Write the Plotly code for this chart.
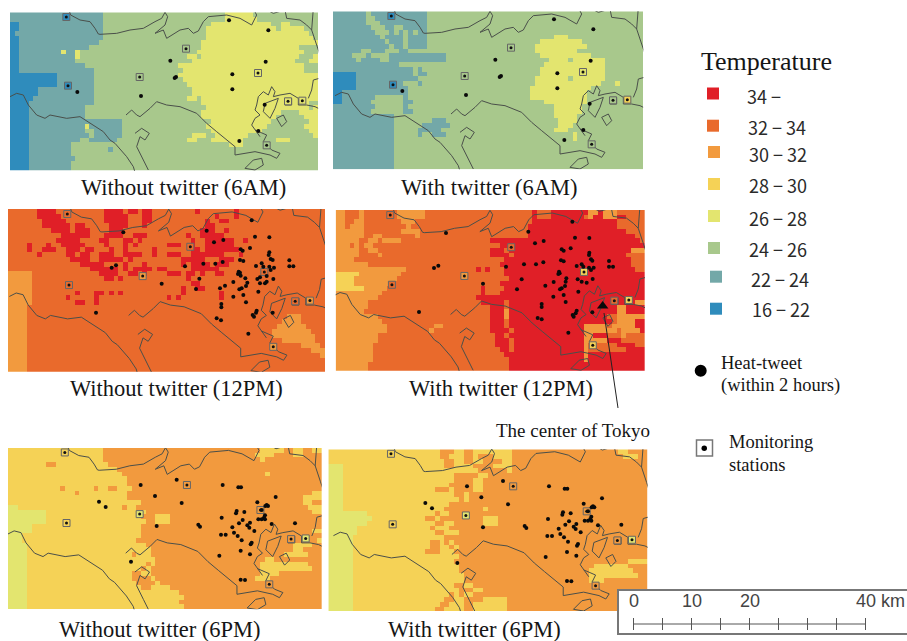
import plotly.graph_objects as go

W, H = 907, 641
SERIF = "Liberation Serif"
CLASS_LABELS = ["16 − 22", "22 − 24", "24 − 26", "26 − 28", "28 − 30", "30 − 32", "32 − 34", "34 −"]
CLASS_COLORS = ["#2f8cbc", "#73a8a8", "#a8c88c", "#e3e56f", "#f5d256", "#f29a3e", "#e96a2c", "#e01f27"]

# Temperature class grids: each row lists class@first-column runs (66 columns, 34 rows)
grid_6am_without = [
"1@0 2@20 3@46 2@52","1@0 2@20 3@46 2@53","0@0 1@2 2@20 3@43 2@56 3@58 2@60","0@0 1@2 2@20 3@42 2@57 3@58 2@63",
"0@0 1@1 2@20 3@42 2@64","0@0 1@2 2@20 3@42 2@65","0@0 1@2 2@19 3@41","0@0 1@2 2@17 3@41 2@62",
"0@0 1@2 3@11 1@12 3@14 2@15 3@40 2@63","0@0 1@2 3@14 2@15 3@38 2@40 3@41 2@62 3@65","0@0 1@2 2@14 3@39 2@61 3@64","0@0 1@2 2@16 3@36 2@63",
"0@0 1@2 2@18 3@37 2@63","0@0 1@10 2@18 3@36","0@0 1@10 2@18 3@37","0@0 1@10 2@18 3@38",
"0@0 1@6 2@18 3@39","0@0 1@6 2@18 3@39","0@0 1@5 2@18 3@38 2@40 3@41","0@0 1@4 2@18 3@41 2@64",
"0@0 1@4 2@16 3@42 2@64 3@65","0@0 1@4 2@16 3@41 2@58 3@62","0@0 1@4 2@16 3@41 2@57 3@63","0@0 1@4 2@24 3@43 2@56 3@64",
"0@0 1@4 3@16 1@17 2@24 3@42 2@55 3@63","0@0 1@4 2@16 1@18 2@24 3@43 2@54 3@64","0@0 1@4 2@17 1@18 2@24 3@39 2@42 3@44 2@51 3@65","0@0 1@4 2@15 1@17 2@23 3@38 2@40 3@43 2@50 3@57 2@60",
"0@0 1@4 2@13 3@47 2@50","0@0 1@4 2@13 1@21 2@22","0@0 1@4 2@13","0@0 1@4 2@14","0@0 1@4 2@13","0@0 1@4 2@13"]
grid_6am_with = [
"1@0 2@7 1@8 2@20","1@0 2@7 1@9 2@20","1@0 2@7 1@10 2@20","1@0 2@8 1@11 2@13 1@15 2@20",
"1@0 2@9 1@12 2@13 1@14 2@15 1@16 2@17 1@18 2@20","1@0 2@10 1@11 2@15 1@16 2@20 3@47 2@50","1@0 2@11 1@12 2@15 1@16 2@20 3@44 2@53","1@0 2@12 1@13 2@15 1@16 2@20 3@43 2@54",
"1@0 2@6 1@8 2@11 1@14 2@16 3@43 2@52","1@0 2@4 1@7 2@8 1@12 2@24 3@44 2@55","1@0 2@5 1@6 2@10 1@12 2@24 3@46 2@50 3@51 2@58","1@0 2@14 3@45 2@58",
"1@0 2@17 1@18 2@19 3@44 2@58","0@0 1@5 2@17 1@18 2@20 3@44 2@58","0@0 1@5 2@18 3@43 2@50 3@51 2@58","0@0 1@5 2@15 1@18 2@19 3@43 2@57 3@60 2@61",
"0@0 1@5 2@16 3@42 2@55","0@0 1@2 2@16 3@42 2@54","0@0 1@2 2@9 1@15 2@16 3@42 2@54","0@0 1@2 2@8 1@15 2@17 3@45 2@54",
"1@0 2@9 1@15 2@16 3@47 2@53","1@0 2@8 1@15 2@17 3@47 2@53","1@0 2@13 3@47 2@52","1@0 2@13 1@21 2@24 3@48 2@52",
"1@0 2@13 1@19 2@25 3@48 2@51","1@0 2@13 1@18 2@23 3@47 2@50","1@0 2@13 1@18 2@19 1@21 2@24 3@51 2@52","1@0 2@13 3@51 2@52",
"1@0 2@13","1@0 2@13","1@0 2@13","1@0 2@13","1@0 2@13","1@0 2@13"]
grid_12pm_without = [
"6@0 7@6 6@10 7@20 6@24 7@25 6@27 7@28 6@30 7@39 6@40 7@47 6@48","6@0 7@6 6@11 7@20 6@25 7@28 6@30 7@43 6@44 7@47 6@48","6@0 7@7 6@12 7@20 6@25 7@28 6@30 7@41 6@42 7@44 6@46","6@0 7@7 6@13 7@14 6@16 7@21 6@25 7@28 6@29 7@41 6@43",
"6@0 7@9 6@13 7@14 6@17 7@21 6@24 7@40 6@43 7@45 6@46","6@0 7@11 6@17 7@20 6@24 7@26 6@29 7@37 6@38 7@40 6@45","6@0 7@10 6@15 7@19 6@21 7@24 6@26 7@27 6@28 7@38 6@39 7@41 6@47 7@49 6@50","6@0 7@4 6@5 7@8 6@9 7@11 6@16 7@20 6@21 7@24 6@25 7@26 6@27 7@33 6@36 7@38 6@39 7@41 6@47",
"6@0 7@4 6@5 7@7 6@10 7@12 6@15 7@16 6@18 7@21 6@22 7@24 6@25 7@30 6@31 7@38 6@40 7@41 6@48","6@0 7@6 6@7 7@12 6@14 7@15 6@17 7@19 6@22 7@24 6@28 7@30 6@31 7@33 6@36 7@38 6@45 7@48 6@49","6@0 7@13 6@17 7@19 6@24 7@25 6@26 7@36 6@41 7@44 6@47","6@0 7@15 6@20 7@24 6@25 7@28 6@29 7@36 6@37 7@38 6@42 7@43 6@46",
"6@0 7@17 6@23 7@24 6@25 7@26 6@30 7@31 6@33 7@38 6@44","5@0 6@5 7@19 6@23 7@25 6@27 7@28 6@29 7@33 6@36 7@37 6@39 7@40 6@41 7@43 6@45","5@0 6@5 7@20 6@22 7@23 6@24 7@37 6@38","5@0 6@5 7@38 6@40",
"5@0 6@5 7@36 6@37 7@39 6@41","5@0 6@5 7@14 6@15 7@18 6@20 7@21 6@22 7@23 6@24 7@36 6@37 7@44 6@45","5@0 6@5 7@12 6@13 7@18 6@19 7@33 6@34 7@35 6@36 7@44 6@45","5@0 6@5 7@14 6@16 7@18 6@19",
"5@0 6@4","5@0 6@4","5@0 6@4 5@58 6@61","5@0 6@4 5@57 6@61",
"5@0 6@4 5@56 6@62","5@0 6@4 5@55 6@63","5@0 6@4 5@55 6@64","5@0 6@4 5@57 6@64",
"5@0 6@4 5@61 6@65","5@0 6@4 5@63","5@0 6@4 5@65","5@0 6@4","5@0 6@4","5@0 6@4"]
grid_12pm_with = [
"5@0 6@2 5@5 6@6 5@13 6@19 7@42 6@43 7@46 5@54 7@56 5@57 6@60","5@0 6@2 5@5 6@6 5@13 6@19 7@42 6@43 7@46 6@53 5@54 7@55 5@57 7@60 6@62","5@0 6@2 5@4 6@6 5@14 6@17 7@42 6@60","5@0 6@2 5@3 6@6 5@15 6@16 7@41 6@60",
"5@0 6@6 5@14 6@18 7@41 6@62","5@0 6@6 5@8 6@10 5@17 6@18 7@41 6@64","5@0 6@5 5@7 6@9 5@10 6@14 7@33 6@65","5@0 6@3 5@4 6@5 5@6 6@8 7@35",
"5@0 6@5 5@7 6@9 7@33 6@36 7@37 5@63","5@0 6@5 5@9 6@10 7@33 6@37 7@38 6@62","5@0 6@4 7@36 6@63","5@0 6@7 7@35 6@63",
"5@0 6@15 7@30 6@31 7@32 6@33 7@36 6@64","4@0 5@5 6@14 7@36","4@0 5@4 6@13 7@37","4@0 5@4 6@12 7@35",
"4@0 5@6 6@11 7@31 6@32 7@36","5@0 6@10 7@31 6@32 7@35","5@0 6@9 7@30","5@0 6@7 7@31 6@36 7@37 5@64",
"5@0 6@7 7@33 6@36 7@37 5@60 7@62","5@0 6@6 7@33 5@36 7@37 5@60 7@62","5@0 6@9 7@33 5@36 7@37 6@58 5@60","5@0 6@10 7@33 6@36 7@37 6@59 5@60 7@64",
"5@0 6@11 5@21 6@23 7@33 6@36 7@37 5@53 6@58 5@59 7@64","5@0 6@11 5@20 6@21 7@33 6@37 7@38 5@53 6@60 5@61 7@65","5@0 6@9 7@34 6@36 7@37 5@53 7@55 6@58 5@61 6@62","5@0 6@9 7@34 6@37 7@38 5@53 7@58 6@61",
"5@0 6@8 7@34 6@37 7@38 5@53 6@54 7@60 6@64","5@0 6@8 7@35 6@37 7@38 5@53 6@54 7@62","5@0 6@8 7@36 5@53 7@54","5@0 6@8 7@37 5@53 7@54","5@0 6@7 7@37","5@0 6@7 7@37"]
grid_6pm_without = [
"4@0 5@20 4@53 5@58 4@60 5@62 4@64","4@0 5@20 4@52 5@56 4@60 5@62","4@0 5@20 4@53 5@54","4@0 5@8 4@10 5@21",
"4@0 5@23","4@0 5@24 4@54 5@55","4@0 5@25","4@0 5@25",
"4@0 5@11 4@12 5@18 4@19 5@21 4@23 5@26","4@0 5@14 4@15 5@25 4@64","4@0 5@25 4@62","4@0 5@28 4@62 5@64",
"3@0 4@2 5@24 4@25 5@27 4@63","3@0 4@8 5@29 4@64","3@0 4@8 5@28 4@31 5@34","3@0 4@8 5@29 4@31 5@34",
"3@0 4@5 5@28","3@0 4@5 5@28 4@64","3@0 4@3 5@28","3@0 4@3 5@27 4@65",
"3@0 4@4 5@29 4@60 5@64","3@0 4@4 5@30 4@60 5@62","3@0 4@4 5@26 4@27 5@30 4@58 5@63","3@0 4@4 5@31 4@54 5@56",
"3@0 4@4 5@29 4@30 5@31 4@53 5@63","3@0 4@4 5@28 4@29 5@30 4@53 5@64","3@0 4@4 5@26 4@28 5@30 4@53 5@57","3@0 4@4 5@26 4@30 5@31 4@52 5@55",
"3@0 4@4 5@27 4@31 5@32","3@0 4@4 5@28 4@30 5@34","3@0 4@4 4@30 5@36","3@0 4@4 5@37","3@0 4@4 5@36","3@0 4@4 5@37"]
grid_6pm_with = [
"4@0 5@23 4@26 5@28 4@30 4@34 5@38 4@60 5@62","4@0 5@23 4@25 5@28 4@30 5@31 4@34 5@38 4@61 5@64","4@0 5@24 4@26 5@28 4@30 5@32 4@36 5@38","3@0 4@3 5@24 4@26 5@30 4@34 5@38",
"3@0 4@3 5@31 4@37 5@38","3@0 4@3 5@26 4@31 5@33","3@0 4@3 5@26 4@30 5@32","3@0 4@3 5@25 4@30 5@32",
"3@0 4@3 5@22 4@25 5@26 4@30 5@32","3@0 4@3 5@26 4@28 5@29","3@0 4@3 5@27 4@28 5@29","3@0 4@3 5@25",
"3@0 4@3 5@24 4@32 5@33","3@0 4@8 5@22 4@23 5@25","3@0 4@9 5@20 4@22 5@23 4@32 5@35","3@0 4@8 5@22 4@24 5@26 4@32 5@35",
"3@0 4@6 5@21 4@22 5@25","3@0 4@6 5@22 4@24 5@27","3@0 4@5 5@24","3@0 4@5 5@21 4@23 5@24 4@25 5@26",
"3@0 4@5 5@21 4@23 5@25 4@26 5@27","3@0 4@5 5@20 4@23 5@26","3@0 4@5 5@27","3@0 4@5 5@26 4@62",
"3@0 4@5 5@27 4@55 5@62","3@0 4@5 5@27 4@54 5@63","3@0 4@5 5@28 4@54 5@64","3@0 4@5 5@28 4@54 5@57",
"3@0 4@5 5@26 4@28 5@30","3@0 4@5 5@27 4@30 5@32","3@0 4@5 5@25 4@26 5@27 4@28 5@30","3@0 4@5 5@24 4@26 5@28 4@32 5@37","3@0 4@5 5@23 4@25 5@28 4@30 5@37","3@0 4@5 5@22 4@24 5@28 4@30 5@37"]

# Map outlines in map units
north_border = [(205,25),(212,45),(240,60),(270,65),(285,85),(295,102),(300,103),(350,100),(390,90),(430,85),(465,65),(485,55),(495,37),(503,50),(495,75),(465,100),(490,90),(500,115),(540,90),(565,85),(580,100),(595,93),(610,65),(625,50),(680,45),(720,55),(755,75),(770,45),(760,27),(795,27),(820,40),(855,30),(860,55),(900,60),(920,75),(935,90),(950,135),(960,165)]
northeast_border = [(940,25),(935,90)]
tama_river = [(30,290),(50,280),(70,285),(85,315),(110,345),(135,355),(150,345),(200,355),(240,350),(280,375),(310,395),(330,420),(345,430),(380,470),(400,500),(405,517)]
south_coast = [(378,345),(395,330),(410,345),(420,350),(450,325),(470,305),(500,315),(540,320),(590,340),(620,370),(650,395),(680,420),(705,440),(705,465)]
island_west = [(405,400),(425,385),(448,400),(435,420),(420,410),(410,440),(430,480),(445,510)]
bay_coast = [(770,315),(775,290),(790,275),(805,285),(815,260),(825,275),(820,290),(840,285),(870,280),(895,295),(895,315),(920,315),(945,320),(955,325)]
east_river = [(958,235),(940,240),(935,270),(925,295)]
bay_pier_a = [(795,310),(835,295),(825,325),(810,355),(790,335),(795,310)]
bay_pier_b = [(830,355),(850,345),(860,365),(845,380),(830,355)]
bay_pier_c = [(855,295),(875,295),(875,315),(855,315),(855,295)]
bay_shore = [(770,315),(765,330),(780,345),(765,355),(755,375),(770,395),(780,410)]
bay_shore_south = [(765,390),(800,405),(790,425),(815,450),(840,460),(830,475),(810,465),(765,455),(705,465)]
bay_south = [(760,480),(785,475),(790,495),(765,510),(735,505),(750,490),(760,480)]

# Monitoring stations in map units
station_x = [199, 204, 419, 558, 774, 907, 864, 800]
station_y = [51, 257, 231, 146, 219, 302, 304, 436]

# Heat-tweet locations
tweets_6am = [(687,61),(805,91),(797,185),(511,182),(697,223),(528,231),(524,234),(697,268),(423,288),(232,276),(794,314),(775,393),(718,423)]
tweets_12pm_without = [(755,61),(370,97),(620,92),(765,110),(808,112),(670,120),(642,127),(750,144),(722,148),(728,152),(808,157),(806,165),(720,180),(730,183),(812,177),(818,180),(868,181),(868,199),(880,199),(768,198),(785,190),(790,200),(808,200),(822,203),(812,210),(348,196),(335,203),(610,191),(646,191),(668,186),(555,199),(716,215),(720,218),(714,222),(722,227),(736,235),(772,237),(780,232),(800,228),(820,237),(742,248),(700,246),(780,250),(795,250),(800,245),(598,236),(485,251),(675,257),(660,265),(588,267),(725,265),(718,268),(738,258),(700,290),(730,285),(775,275),(738,307),(664,312),(664,322),(770,332),(768,338),(758,345),(762,350),(818,338),(650,355),(663,361),(745,401),(288,338)]
tweets_12pm_with = [(363,99),(742,65),(610,95),(630,130),(656,123),(750,113),(793,114),(710,148),(716,152),(737,145),(793,158),(792,165),(708,181),(716,184),(798,178),(802,182),(852,183),(852,200),(864,200),(755,198),(770,193),(775,200),(792,203),(806,203),(798,210),(340,197),(327,204),(597,193),(633,193),(655,187),(543,200),(702,215),(704,220),(700,222),(724,235),(722,245),(758,238),(770,245),(785,248),(803,237),(686,246),(590,238),(474,251),(661,257),(576,268),(710,265),(705,268),(720,258),(685,290),(716,285),(760,275),(722,306),(650,312),(650,321),(755,332),(752,340),(743,345),(746,350),(802,337),(638,354),(650,358),(730,398),(282,336)]
tweets_6pm = [(530,131),(668,147),(715,154),(723,154),(422,147),(465,180),(827,183),(545,201),(297,197),(317,213),(772,199),(800,207),(804,210),(796,210),(710,225),(708,232),(733,228),(785,222),(665,245),(795,238),(792,245),(775,250),(785,250),(795,250),(717,262),(750,260),(470,270),(595,266),(600,272),(697,274),(728,252),(742,268),(748,275),(763,285),(815,264),(885,262),(702,290),(713,300),(663,296),(677,296),(725,313),(755,320),(752,325),(722,344),(750,355),(658,359),(393,377),(722,431),(735,432)]
tweets_6pm_with = [(x + 4, y + 4) for x, y in tweets_6pm]
tweets_6am_with = [(x, y - 3) for x, y in tweets_6am]

# Station temperature classes per panel
stations_6am_without = [0, 0, 2, 2, 3, 3, 3, 2]
stations_6am_with = [0, 0, 2, 2, 3, 4, 2, 2]
stations_12pm_without = [6, 6, 5, 6, 6, 5, 6, 5]
stations_12pm_with = [6, 6, 5, 6, 4, 4, 6, 4]
stations_6pm_without = [4, 4, 3, 5, 5, 3, 5, 5]
stations_6pm_with = [4, 4, 3, 5, 5, 3, 5, 5]

scale_km = [0, 5, 10, 15, 20, 25, 30, 35, 40]
scale_labels = {0: "0", 10: "10", 20: "20"}

panels = [
    dict(grid=grid_6am_without, tweets=tweets_6am, st=stations_6am_without, origin=(0, 0), own=(30, 955, 37, 512), mp=(30, 955, 37, 512)),
    dict(grid=grid_6am_with, tweets=tweets_6am_with, st=stations_6am_with, origin=(325, 0), own=(24, 955, 34, 508), mp=(24, 955, 37, 511)),
    dict(grid=grid_12pm_without, tweets=tweets_12pm_without, st=stations_12pm_without, origin=(0, 200), own=(24, 975, 27, 515), mp=(26, 951, 36.5, 508)),
    dict(grid=grid_12pm_with, tweets=tweets_12pm_with, st=stations_12pm_with, origin=(325, 200), own=(32, 960, 30, 512), mp=(37, 955, 36, 511)),
    dict(grid=grid_6pm_without, tweets=tweets_6pm, st=stations_6pm_without, origin=(0, 436), own=(24, 965, 36, 520), mp=(32, 954, 38, 509)),
    dict(grid=grid_6pm_with, tweets=tweets_6pm_with, st=stations_6pm_with, origin=(325, 436), own=(10, 968, 40, 525), mp=(15, 953, 38, 510)),
]
outlines = [north_border, northeast_border, tama_river, south_coast, island_west, bay_coast, east_river,
            bay_pier_a, bay_pier_b, bay_pier_c, bay_shore, bay_shore_south, bay_south]

N_COLS, N_ROWS = 66, 34

def expand(rows):
    out = []
    for row in rows:
        tokens = [t.split("@") for t in row.split()]
        cells = [0] * N_COLS
        for i, (cls, start) in enumerate(tokens):
            end = int(tokens[i + 1][1]) if i + 1 < len(tokens) else N_COLS
            for c in range(int(start), end):
                cells[c] = int(cls)
        out.append(cells)
    return out

def fx(x):
    return x / W

def fy(y):
    return 1 - y / H

n = len(CLASS_COLORS)
colorscale = []
for i, col in enumerate(CLASS_COLORS):
    colorscale += [[i / n, col], [(i + 1) / n, col]]

fig = go.Figure()
layout_axes = {}
for i, p in enumerate(panels, start=1):
    ax = "" if i == 1 else str(i)
    xa, ya = "x" + ax, "y" + ax
    ox, oy = p["origin"]
    x0, x1, y0, y1 = p["own"]
    mx0, mx1, my0, my1 = p["mp"]
    dx, dy = (x1 - x0) / N_COLS, (y1 - y0) / N_ROWS
    fig.add_trace(go.Heatmap(z=expand(p["grid"]), x0=x0 + dx / 2, dx=dx, y0=y0 + dy / 2, dy=dy,
                             zmin=-0.5, zmax=n - 0.5, colorscale=colorscale, showscale=False,
                             hoverinfo="skip", xaxis=xa, yaxis=ya))
    sx = (x1 - x0) / (mx1 - mx0)
    sy = (y1 - y0) / (my1 - my0)
    lx, ly = [], []
    for line in outlines:
        for mxv, myv in line:
            lx.append(x0 + (mxv - mx0) * sx)
            ly.append(y0 + (myv - my0) * sy)
        lx.append(None)
        ly.append(None)
    fig.add_trace(go.Scatter(x=lx, y=ly, mode="lines", line=dict(color="#4a4f4a", width=1),
                             cliponaxis=False, hoverinfo="skip", showlegend=False, xaxis=xa, yaxis=ya))
    stx = [x0 + (v - mx0) * sx for v in station_x]
    sty = [y0 + (v - my0) * sy for v in station_y]
    fig.add_trace(go.Scatter(x=stx, y=sty, mode="markers",
                             marker=dict(symbol="square", size=7, color=[CLASS_COLORS[c] for c in p["st"]],
                                         line=dict(color="#666666", width=1)),
                             hoverinfo="skip", showlegend=False, xaxis=xa, yaxis=ya))
    fig.add_trace(go.Scatter(x=stx, y=sty, mode="markers", marker=dict(size=3, color="#111111"),
                             hoverinfo="skip", showlegend=False, xaxis=xa, yaxis=ya))
    fig.add_trace(go.Scatter(x=[t[0] for t in p["tweets"]], y=[t[1] for t in p["tweets"]], mode="markers",
                             marker=dict(size=4, color="#0a0a0a"), hoverinfo="skip", showlegend=False,
                             xaxis=xa, yaxis=ya))
    left, right = ox + x0 / 3, ox + x1 / 3
    top, bottom = oy + y0 / 3, oy + y1 / 3
    layout_axes["xaxis" + ax] = dict(domain=[fx(left), fx(right)], range=[x0, x1], visible=False, anchor=ya, fixedrange=True)
    layout_axes["yaxis" + ax] = dict(domain=[fy(bottom), fy(top)], range=[y1, y0], visible=False, anchor=xa, fixedrange=True)
    if i == 4:
        fig.add_trace(go.Scatter(x=[833], y=[318], mode="markers",
                                 marker=dict(symbol="triangle-up", size=10, color="#0a0a0a"),
                                 hoverinfo="skip", showlegend=False, xaxis=xa, yaxis=ya))

annotations = []
def text(x, y, s, size, family=SERIF, anchor="left", color="#151515"):
    annotations.append(dict(x=fx(x), y=fy(y), xref="paper", yref="paper", text=s, showarrow=False, xanchor=anchor,
                            yanchor="middle", font=dict(family=family, size=size, color=color)))

captions = [("Without twitter (6AM)", 183, 188), ("With twitter (6AM)", 489, 188),
            ("Without twitter (12PM)", 176, 388), ("With twitter (12PM)", 501, 388),
            ("Without twitter (6PM)", 160, 629), ("With twitter (6PM)", 474, 629)]
for s, x, y in captions:
    text(x, y, s, 22.5, anchor="center")
text(573, 430, "The center of Tokyo", 19, anchor="center")
text(699, 61.5, "Temperature", 26)

legend_rows = [(7, 713, 93.5, 745, 96), (6, 713, 125.7, 746, 127), (5, 714, 152, 747, 154), (4, 714, 184, 747, 185),
               (3, 714, 216, 747, 218), (2, 714, 248, 747, 249), (1, 716, 276.7, 749, 279), (0, 716, 308.7, 750, 309)]
shapes = []
for cls, sx_, sy_, tx, ty in legend_rows:
    shapes.append(dict(type="rect", xref="paper", yref="paper", x0=fx(sx_ - 6), x1=fx(sx_ + 6), y0=fy(sy_ + 6), y1=fy(sy_ - 6),
                       fillcolor=CLASS_COLORS[cls], line=dict(width=0)))
    text(tx, ty, CLASS_LABELS[cls], 18, family="Noto Sans CJK JP", color="#2a2a2a")

# Arrow line to the centre of Tokyo
shapes.append(dict(type="line", xref="paper", yref="paper", x0=fx(604), y0=fy(313), x1=fx(618), y1=fy(408), line=dict(color="#222222", width=1)))

# Point keys
shapes.append(dict(type="circle", xref="paper", yref="paper", x0=fx(694.7), x1=fx(706.7), y0=fy(376.7), y1=fy(364.7), fillcolor="#000000", line=dict(width=0)))
shapes.append(dict(type="rect", xref="paper", yref="paper", x0=fx(696.5), x1=fx(712.5), y0=fy(456), y1=fy(440), fillcolor="#ffffff", line=dict(color="#777777", width=1.5)))
shapes.append(dict(type="circle", xref="paper", yref="paper", x0=fx(701.5), x1=fx(707), y0=fy(451), y1=fy(445.5), fillcolor="#000000", line=dict(width=0)))
text(719, 363, "Heat-tweet", 18.5)
text(719, 385, "(within 2 hours)", 18.5)
text(727, 441.5, "Monitoring", 18.5)
text(727, 465, "stations", 18.5)

# Scale bar
shapes.append(dict(type="rect", xref="paper", yref="paper", x0=fx(618), x1=fx(908), y0=fy(634), y1=fy(590), fillcolor="#ffffff", line=dict(color="#777777", width=2), layer="above"))
bar0, px_per_km = 633.5, 5.8
shapes.append(dict(type="line", xref="paper", yref="paper", x0=fx(bar0), x1=fx(bar0 + 40 * px_per_km), y0=fy(624), y1=fy(624), line=dict(color="#555555", width=1)))
for km in scale_km:
    xp = bar0 + km * px_per_km
    shapes.append(dict(type="line", xref="paper", yref="paper", x0=fx(xp), x1=fx(xp), y0=fy(630), y1=fy(618), line=dict(color="#555555", width=1)))
    if km in scale_labels:
        text(xp, 601, scale_labels[km], 18, family="Liberation Sans", anchor="center", color="#444444")
text(854, 601, "40 km", 18, family="Liberation Sans", color="#444444")

fig.update_layout(width=W, height=H, margin=dict(l=0, r=0, t=0, b=0), paper_bgcolor="#ffffff", plot_bgcolor="#ffffff",
                  showlegend=False, annotations=annotations, shapes=shapes, **layout_axes)
fig.write_html("out.html", config=dict(displayModeBar=False),
               post_script="document.body.style.margin='0';window.dispatchEvent(new Event('resize'));")
